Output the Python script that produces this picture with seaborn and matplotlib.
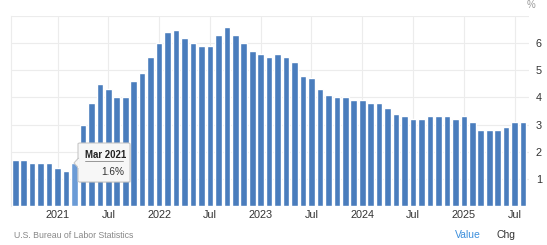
import matplotlib
matplotlib.use("Agg")
import matplotlib.pyplot as plt
import seaborn as sns
import pandas as pd
import numpy as np
from matplotlib.patches import FancyBboxPatch, Polygon

months = pd.date_range("2020-08-01", "2025-08-01", freq="MS").strftime("%b %Y").tolist()
values = [1.7, 1.7, 1.6, 1.6, 1.6, 1.4, 1.3, 1.6, 3.0, 3.8, 4.5, 4.3, 4.0, 4.0, 4.6, 4.9,
          5.5, 6.0, 6.4, 6.5, 6.2, 6.0, 5.9, 5.9, 6.3, 6.6, 6.3, 6.0, 5.7, 5.6, 5.5, 5.6,
          5.5, 5.3, 4.8, 4.7, 4.3, 4.1, 4.0, 4.0, 3.9, 3.9, 3.8, 3.8, 3.6, 3.4, 3.3, 3.2,
          3.2, 3.3, 3.3, 3.3, 3.2, 3.3, 3.1, 2.8, 2.8, 2.8, 2.9, 3.1, 3.1]
tick_months = ["Jan 2021", "Jul 2021", "Jan 2022", "Jul 2022", "Jan 2023", "Jul 2023",
               "Jan 2024", "Jul 2024", "Jan 2025", "Jul 2025"]
tick_labels = ["2021", "Jul", "2022", "Jul", "2023", "Jul", "2024", "Jul", "2025", "Jul"]
y_ticks = [1, 2, 3, 4, 5, 6]
highlight = "Mar 2021"

sns.set_theme(style="white")
plt.rcParams["font.family"] = ["Liberation Sans", "DejaVu Sans"]

df = pd.DataFrame({"month": months, "value": values})
df["kind"] = np.where(df["month"] == highlight, "hl", "normal")

W, H = 547, 245
fig = plt.figure(figsize=(W / 100, H / 100), dpi=100)
ax = fig.add_axes([11 / W, 1 - 206 / H, (529 - 11) / W, (206 - 16) / H])

sns.barplot(data=df, x="month", y="value", hue="kind",
            palette={"normal": "#4a7dbd", "hl": "#6b9bd6"},
            width=0.78, dodge=False, legend=False, ax=ax, saturation=1)

ax.set_xlim(-0.5, 60.7)
ax.set_ylim(0, 7)
ax.set_xlabel("")
ax.set_ylabel("")

tick_pos = [months.index(m) for m in tick_months]
ax.set_xticks(tick_pos)
ax.set_xticklabels(tick_labels, fontsize=7.8, color="#333333")
ax.yaxis.tick_right()
ax.set_yticks(y_ticks + [7])
ax.set_yticklabels([str(t) for t in y_ticks] + [""], fontsize=7.8, color="#333333")
ax.tick_params(axis="both", length=0)
ax.tick_params(axis="x", pad=3)
ax.tick_params(axis="y", pad=5)

ax.grid(True, axis="both", color="#ececec", linewidth=0.8)
ax.set_axisbelow(True)
for s in ["top", "right", "bottom"]:
    ax.spines[s].set_visible(False)
ax.spines["left"].set_color("#ececec")
ax.spines["left"].set_linewidth(0.8)

# tooltip anchored to highlighted bar
def px(x, y):
    return (x / W, 1 - y / H)

shadow = FancyBboxPatch(px(79, 183), 52 / W, 39 / H, boxstyle="round,pad=0,rounding_size=0.004",
                        transform=fig.transFigure, facecolor="#000000", alpha=0.08,
                        edgecolor="none", zorder=9)
fig.patches.append(shadow)
box = FancyBboxPatch(px(78, 182), 52 / W, 39 / H, boxstyle="round,pad=0,rounding_size=0.004",
                     transform=fig.transFigure, facecolor="#f7f7f7",
                     edgecolor="#c8c8c8", linewidth=0.8, zorder=10)
fig.patches.append(box)
tri = Polygon([px(78.5, 158), px(74, 163), px(78.5, 168)], closed=True,
              transform=fig.transFigure, facecolor="#f7f7f7", edgecolor="#c8c8c8",
              linewidth=0.8, zorder=11)
fig.patches.append(tri)
fig.patches.append(Polygon([px(79.2, 158.5), px(79.2, 167.5), px(78, 167.5), px(78, 158.5)],
                           closed=True, transform=fig.transFigure, facecolor="#f7f7f7",
                           edgecolor="none", zorder=12))
fig.text(*px(85, 155), highlight, fontsize=6.9, fontweight="bold", color="#222222",
         va="center", ha="left", zorder=13)
fig.lines.append(plt.Line2D([85 / W, 123 / W], [1 - 161 / H, 1 - 161 / H],
                            transform=fig.transFigure, color="#888888", linewidth=0.6, zorder=13))
hv = values[months.index(highlight)]
fig.text(*px(124, 172), f"{hv:.1f}%", fontsize=7.2, color="#333333",
         va="center", ha="right", zorder=13)

fig.text(*px(531, 5), "%", fontsize=7, color="#999999", va="center", ha="center")
fig.text(*px(14, 235), "U.S. Bureau of Labor Statistics", fontsize=6.3, color="#888888",
         va="center", ha="left")
fig.text(*px(468, 235), "Value", fontsize=7.5, color="#3c8fdc", va="center", ha="center")
fig.text(*px(506, 235), "Chg", fontsize=7.5, color="#333333", va="center", ha="center")

fig.savefig("out.png", dpi=100)
